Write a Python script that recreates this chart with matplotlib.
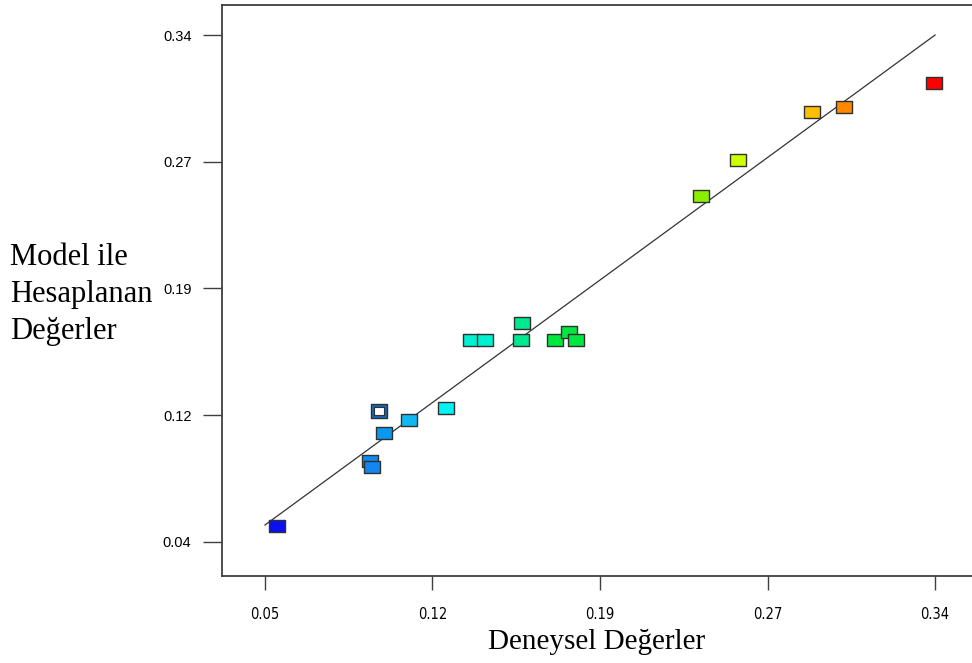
import numpy as np
import matplotlib.pyplot as plt
from matplotlib.path import Path

# Deneysel (actual) vs model (predicted) values
actual = [0.0551, 0.0955, 0.0964, 0.0992, 0.1015, 0.1123, 0.1283, 0.1392, 0.1454,
          0.1614, 0.1607, 0.1757, 0.1815, 0.1845, 0.2386, 0.2546, 0.2866, 0.3006, 0.3396]
predicted = [0.0493, 0.0876, 0.0845, 0.1175, 0.1042, 0.1123, 0.1190, 0.1594, 0.1594,
             0.1697, 0.1594, 0.1594, 0.1643, 0.1594, 0.2446, 0.2661, 0.2942, 0.2975, 0.3115]
colors = ['#0a10f0', '#1088f0', '#1088f0', '#ffffff', '#0898f0', '#10b8f0', '#00f4f4',
          '#00f0d0', '#00f0d0', '#00e890', '#00e890', '#00e840', '#00e840', '#00e840',
          '#88f000', '#ccff00', '#ffc000', '#ff8800', '#ff0000']
highlight = 3  # the point drawn with an open box

xticks = [0.05, 0.1225, 0.195, 0.2675, 0.34]
xtick_labels = ['0.05', '0.12', '0.19', '0.27', '0.34']
yticks = [0.04, 0.115, 0.19, 0.265, 0.34]
ytick_labels = ['0.04', '0.12', '0.19', '0.27', '0.34']

# rectangular marker, a bit wider than tall
rect = Path([(-0.5, -0.39), (0.5, -0.39), (0.5, 0.39), (-0.5, 0.39), (-0.5, -0.39)],
            [Path.MOVETO, Path.LINETO, Path.LINETO, Path.LINETO, Path.CLOSEPOLY])

fig = plt.figure(figsize=(9.72, 6.63), dpi=100)
ax = fig.add_axes([0.2284, 0.1312, 0.7716, 0.8613])

# y = x reference line
ax.plot([0.05, 0.34], [0.05, 0.34], color='#333333', lw=0.9, zorder=1)

for i, (xa, yp, c) in enumerate(zip(actual, predicted, colors)):
    if i == highlight:
        ax.plot(xa, yp, marker=rect, ms=12, mfc='#1068c0', mec='#303030', mew=1.0, zorder=3)
        ax.plot(xa, yp, marker=rect, ms=7.5, mfc='white', mec='#303030', mew=0.8, zorder=4)
    else:
        ax.plot(xa, yp, marker=rect, ms=11, mfc=c, mec='#303030', mew=1.0, zorder=3)

ax.set_xlim(0.0314, 0.356)
ax.set_ylim(0.0198, 0.3578)

for side in ['left', 'bottom', 'top']:
    ax.spines[side].set_color('#404040')
    ax.spines[side].set_linewidth(1.3)
ax.spines['right'].set_visible(False)

ax.set_xticks(xticks)
ax.set_xticklabels(xtick_labels, family=['DejaVu Sans'], fontstretch='condensed', fontsize=10.5)
ax.set_yticks(yticks)
ax.set_yticklabels(ytick_labels, family=['Liberation Sans', 'DejaVu Sans'], fontsize=10.5)
ax.tick_params(axis='x', direction='out', length=10, width=1, color='#404040', pad=12)
ax.tick_params(axis='y', direction='out', length=14, width=1, color='#404040', pad=8)

fig.text(0.614, 0.032, 'Deneysel Değerler', ha='center', va='center',
         family=['Liberation Serif', 'DejaVu Serif'], fontsize=21)
fig.text(0.01, 0.556, 'Model ile\nHesaplanan\nDeğerler', ha='left', va='center',
         family=['Liberation Serif', 'DejaVu Serif'], fontsize=22, linespacing=1.35)

fig.savefig('out.png', dpi=100)
